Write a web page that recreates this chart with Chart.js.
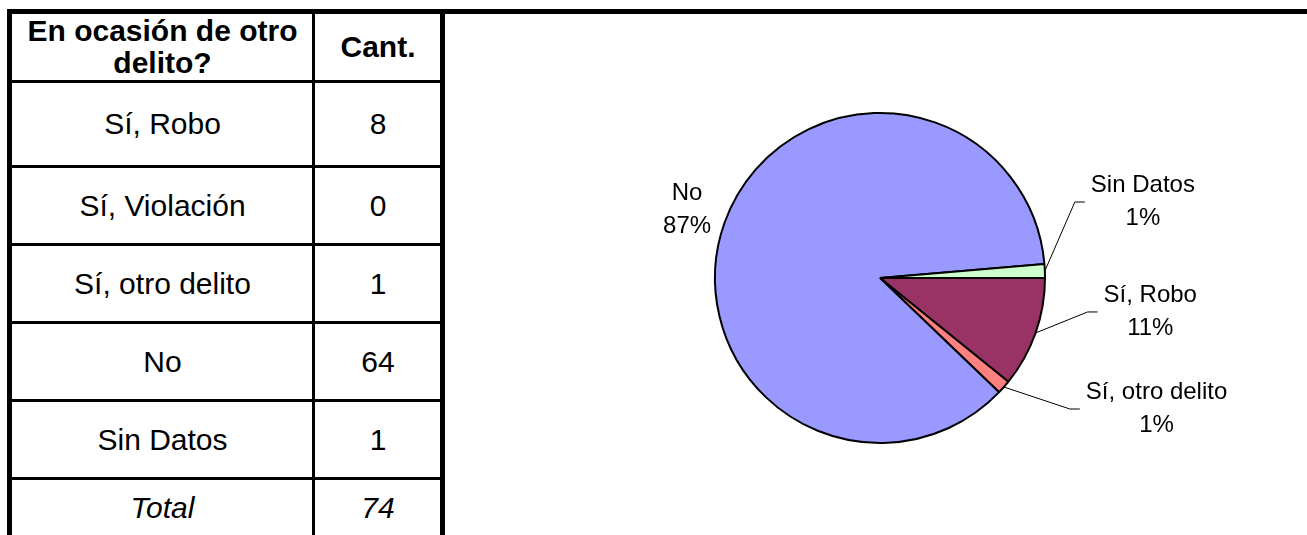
<!DOCTYPE html>
<html>
<head>
<meta charset="utf-8">
<script src="https://cdn.jsdelivr.net/npm/chart.js"></script>
<style>
  body { margin: 0; background: #fff; font-family: "Liberation Sans", Arial, sans-serif; }
  #page { position: relative; width: 1307px; height: 535px; overflow: hidden; background: #fff; }
  .line { position: absolute; background: #000; }
  .cell { position: absolute; display: flex; align-items: center; justify-content: center;
          text-align: center; color: #000; font-size: 30px; }
  .head { font-weight: bold; font-size: 30px; line-height: 1.08; }
  .total { font-style: italic; }
  #chart { position: absolute; left: 445px; top: 14px; }
</style>
</head>
<body>
<div id="page">
  <canvas id="chart" width="862" height="521"></canvas>
</div>
<script>
// data
const headers = ['En ocasión de otro delito?', 'Cant.'];
const categories = ['Sí, Robo', 'Sí, Violación', 'Sí, otro delito', 'No', 'Sin Datos'];
const counts = [8, 0, 1, 64, 1];
const totalLabel = 'Total';
const percentLabels = ['11%', '0%', '1%', '87%', '1%'];

const sliceColors = ['#993366', '#FFFFCC', '#FF8080', '#9999FF', '#CCFFCC'];
const FONT = '"Liberation Sans", Arial, sans-serif';

// ---- table (left side) ----
const page = document.getElementById('page');
const colX = [12, 313, 440];
const rowY = [14, 80, 165, 243, 321, 399, 477, 535];

function addLine(x, y, w, h) {
    const d = document.createElement('div');
    d.className = 'line';
    d.style.cssText = `left:${x}px;top:${y}px;width:${w}px;height:${h}px`;
    page.appendChild(d);
}

function addCell(text, col, row, cls) {
    const d = document.createElement('div');
    d.className = 'cell' + (cls ? ' ' + cls : '');
    const x0 = col === 0 ? colX[0] : colX[1] + 3;
    const y0 = row === 0 ? rowY[0] : rowY[row] + 3;
    d.style.left = x0 + 'px';
    d.style.top = y0 + 'px';
    d.style.width = (colX[col + 1] - x0) + 'px';
    d.style.height = (rowY[row + 1] - y0) + 'px';
    d.textContent = text;
    page.appendChild(d);
}

addCell(headers[0], 0, 0, 'head');
addCell(headers[1], 1, 0, 'head');
categories.forEach((c, i) => {
    addCell(c, 0, i + 1);
    addCell(String(counts[i]), 1, i + 1);
});
const total = counts.reduce((a, b) => a + b, 0);
addCell(totalLabel, 0, categories.length + 1, 'total');
addCell(String(total), 1, categories.length + 1, 'total');

// borders
addLine(7, 9, 1300, 5);          // top border running across
addLine(7, 9, 5, 526);           // left edge
addLine(440, 9, 5, 526);         // right edge of table
addLine(312, 14, 3, 521);        // column separator
for (let r = 1; r < rowY.length - 1; r++) addLine(12, rowY[r], 428, 3);

// ---- pie labels with leader lines ----
const leaders = {
    0: { dx: 52, dy: -21 },
    2: { dx: 66, dy: 22 },
    4: { dx: 30, dy: -69 }
};

const pieLabels = {
    id: 'pieLabels',
    afterDatasetsDraw(chart) {
        const ctx = chart.ctx;
        const meta = chart.getDatasetMeta(0);
        const lh = 33;
        ctx.save();
        ctx.font = '24px ' + FONT;
        ctx.fillStyle = '#000';
        ctx.strokeStyle = '#000';
        ctx.lineWidth = 1;
        ctx.textBaseline = 'middle';
        meta.data.forEach((arc, i) => {
            if (!counts[i]) return;
            const p = arc.getProps(['x', 'y', 'startAngle', 'endAngle', 'outerRadius']);
            const mid = (p.startAngle + p.endAngle) / 2;
            const ex = p.x + Math.cos(mid) * p.outerRadius;
            const ey = p.y + Math.sin(mid) * p.outerRadius;
            const lines = [categories[i], percentLabels[i]];
            const lead = leaders[i];
            let cx, cy;
            if (lead) {
                const bx = ex + lead.dx, by = ey + lead.dy;
                ctx.beginPath();
                ctx.moveTo(ex, ey);
                ctx.lineTo(bx, by);
                ctx.lineTo(bx + 10, by);
                ctx.stroke();
                const w = Math.max(...lines.map(t => ctx.measureText(t).width));
                cx = bx + 16 + w / 2;
                cy = by;
            } else {
                const r = p.outerRadius * 1.24;
                cx = p.x + Math.cos(mid) * r;
                cy = p.y + Math.sin(mid) * r;
            }
            ctx.textAlign = 'center';
            lines.forEach((t, k) => ctx.fillText(t, cx, cy + (k - 0.5) * lh));
        });
        ctx.restore();
    }
};

new Chart(document.getElementById('chart'), {
    type: 'pie',
    data: {
        labels: categories,
        datasets: [{
            data: counts,
            backgroundColor: sliceColors,
            borderColor: '#000',
            borderWidth: 2
        }]
    },
    options: {
        responsive: false,
        animation: false,
        rotation: 90,
        radius: 165,
        layout: { padding: { left: 8, top: 7, right: 0, bottom: 0 } },
        plugins: {
            legend: { display: false },
            tooltip: { enabled: false }
        }
    },
    plugins: [pieLabels]
});
</script>
</body>
</html>
